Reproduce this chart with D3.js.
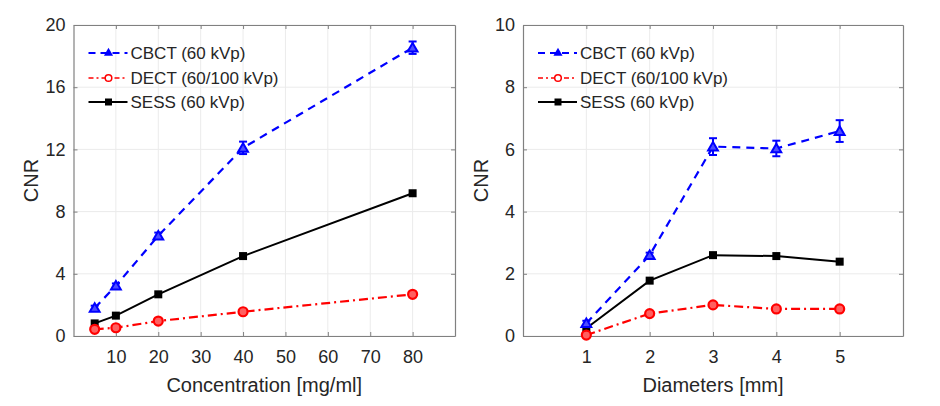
<!DOCTYPE html>
<html><head><meta charset="utf-8">
<script src="https://cdn.jsdelivr.net/npm/d3@7"></script>
<style>body{margin:0;background:#fff}svg{display:block}text{font-family:"Liberation Sans",Arial,sans-serif;fill:#262626}</style>
</head><body><svg id="c" width="940" height="406"></svg>
<script>
// Left panel: concentration
const concX = [5, 10, 20, 40, 80];
const concCBCT = [1.8, 3.23, 6.45, 12.1, 18.54];
const concCBCTerr = [0.15, 0.15, 0.2, 0.4, 0.4];
const concDECT = [0.43, 0.53, 0.96, 1.56, 2.68];
const concSESS = [0.81, 1.31, 2.68, 5.14, 9.18];
const concXTicks = [10, 20, 30, 40, 50, 60, 70, 80];
const concYTicks = [0, 4, 8, 12, 16, 20];
// Right panel: diameters
const diamX = [1, 2, 3, 4, 5];
const diamCBCT = [0.41, 2.6, 6.09, 6.03, 6.59];
const diamCBCTerr = [0.08, 0.08, 0.27, 0.25, 0.35];
const diamDECT = [0.03, 0.72, 1.0, 0.87, 0.87];
const diamSESS = [0.25, 1.78, 2.6, 2.57, 2.39];
const diamXTicks = [1, 2, 3, 4, 5];
const diamYTicks = [0, 2, 4, 6, 8, 10];
const seriesNames = ["CBCT (60 kVp)", "DECT (60/100 kVp)", "SESS (60 kVp)"];

const svg = d3.select("#c");

function panel(cfg) {
  const x = d3.scaleLinear().domain(cfg.xdom).range([cfg.left, cfg.right]);
  const y = d3.scaleLinear().domain(cfg.ydom).range([cfg.bottom, cfg.top]);
  const g = svg.append("g");
  const fmt = d3.format("d");
  // grid
  g.selectAll(".vg").data(cfg.xticks).enter().append("line")
    .attr("x1", d => x(d)).attr("x2", d => x(d)).attr("y1", cfg.top).attr("y2", cfg.bottom)
    .attr("stroke", "#ebebeb").attr("stroke-width", 1);
  g.selectAll(".hg").data(cfg.yticks).enter().append("line")
    .attr("y1", d => y(d)).attr("y2", d => y(d)).attr("x1", cfg.left).attr("x2", cfg.right)
    .attr("stroke", "#ebebeb").attr("stroke-width", 1);
  // axes
  const ax = g.append("g").attr("transform", `translate(0,${cfg.bottom})`)
    .call(d3.axisBottom(x).tickValues(cfg.xticks).tickFormat(fmt).tickSizeInner(-4).tickSizeOuter(0).tickPadding(14));
  const ay = g.append("g").attr("transform", `translate(${cfg.left},0)`)
    .call(d3.axisLeft(y).tickValues(cfg.yticks).tickFormat(fmt).tickSizeInner(-4).tickSizeOuter(0).tickPadding(8));
  const axT = g.append("g").attr("transform", `translate(0,${cfg.top})`)
    .call(d3.axisTop(x).tickValues(cfg.xticks).tickSizeInner(-4).tickSizeOuter(0).tickFormat(""));
  const ayR = g.append("g").attr("transform", `translate(${cfg.right},0)`)
    .call(d3.axisRight(y).tickValues(cfg.yticks).tickSizeInner(-4).tickSizeOuter(0).tickFormat(""));
  [ax, ay, axT, ayR].forEach(a => {
    a.select(".domain").attr("stroke", "#808080").attr("stroke-width", 1.2);
    a.selectAll(".tick line").attr("stroke", "#808080");
    a.selectAll("text").style("font-size", "18px").attr("fill", "#262626");
  });
  g.append("text").attr("x", (cfg.left + cfg.right) / 2).attr("y", 392)
    .attr("text-anchor", "middle").style("font-size", "20px").text(cfg.xlabel);
  g.append("text").attr("transform", `translate(${cfg.ylabX},${(cfg.top + cfg.bottom) / 2}) rotate(-90)`)
    .attr("text-anchor", "middle").style("font-size", "20px").text("CNR");

  const line = d3.line().x(d => x(d[0])).y(d => y(d[1]));
  const zip = (xs, ys) => xs.map((v, i) => [v, ys[i]]);
  const sess = zip(cfg.xs, cfg.sess), dect = zip(cfg.xs, cfg.dect), cbct = zip(cfg.xs, cfg.cbct);
  const clip = g.append("g");
  // SESS
  clip.append("path").attr("d", line(sess)).attr("fill", "none").attr("stroke", "#000").attr("stroke-width", 2);
  clip.selectAll(".sq").data(sess).enter().append("rect")
    .attr("x", d => x(d[0]) - 4).attr("y", d => y(d[1]) - 4).attr("width", 8).attr("height", 8).attr("fill", "#000");
  // DECT
  clip.append("path").attr("d", line(dect)).attr("fill", "none").attr("stroke", "#ff0000").attr("stroke-width", 2.2)
    .attr("stroke-dasharray", "9,4,2,4");
  clip.selectAll(".ci").data(dect).enter().append("circle")
    .attr("cx", d => x(d[0])).attr("cy", d => y(d[1])).attr("r", 4.5)
    .attr("fill", "#ff6060").attr("stroke", "#ff0000").attr("stroke-width", 2.2);
  // CBCT
  clip.append("path").attr("d", line(cbct)).attr("fill", "none").attr("stroke", "#0000ff").attr("stroke-width", 2.2)
    .attr("stroke-dasharray", "8,6");
  const eb = clip.selectAll(".eb").data(cbct.map((d, i) => [d[0], d[1], cfg.err[i]])).enter().append("g");
  eb.append("line").attr("x1", d => x(d[0])).attr("x2", d => x(d[0]))
    .attr("y1", d => y(d[1] - d[2])).attr("y2", d => y(d[1] + d[2])).attr("stroke", "#0000ff").attr("stroke-width", 2);
  eb.append("line").attr("x1", d => x(d[0]) - 4).attr("x2", d => x(d[0]) + 4)
    .attr("y1", d => y(d[1] - d[2])).attr("y2", d => y(d[1] - d[2])).attr("stroke", "#0000ff").attr("stroke-width", 2);
  eb.append("line").attr("x1", d => x(d[0]) - 4).attr("x2", d => x(d[0]) + 4)
    .attr("y1", d => y(d[1] + d[2])).attr("y2", d => y(d[1] + d[2])).attr("stroke", "#0000ff").attr("stroke-width", 2);
  const tri = d3.symbol().type(d3.symbolTriangle).size(42);
  clip.selectAll(".tr").data(cbct).enter().append("path")
    .attr("d", tri).attr("transform", d => `translate(${x(d[0])},${y(d[1]) + 1})`)
    .attr("fill", "#4d4dff").attr("stroke", "#0000ff").attr("stroke-width", 2);

  // legend
  const lx = cfg.left + 15, lys = [53, 78, 102];
  const L = g.append("g");
  const styles = [
    {c: "#0000ff", dash: "7,5", w: 2.2},
    {c: "#ff0000", dash: "5,3,2,3", w: 1.5},
    {c: "#000", dash: null, w: 2}
  ];
  seriesNames.forEach((n, i) => {
    const ly = lys[i];
    L.append("line").attr("x1", lx).attr("x2", lx + 39).attr("y1", ly).attr("y2", ly)
      .attr("stroke", styles[i].c).attr("stroke-width", styles[i].w).attr("stroke-dasharray", styles[i].dash);
    const mx = lx + 20;
    if (i === 0) L.append("path").attr("d", d3.symbol().type(d3.symbolTriangle).size(36))
      .attr("transform", `translate(${mx},${ly})`).attr("fill", "#0000ff");
    if (i === 1) L.append("circle").attr("cx", mx).attr("cy", ly).attr("r", 3.3)
      .attr("fill", "#fff").attr("stroke", "#ff0000").attr("stroke-width", 1.5);
    if (i === 2) L.append("rect").attr("x", mx - 3.5).attr("y", ly - 3.5).attr("width", 7).attr("height", 7).attr("fill", "#000");
    L.append("text").attr("x", lx + 42).attr("y", ly + 6).style("font-size", "17px").text(n);
  });
}

panel({left: 73.5, right: 455, top: 25, bottom: 336, xdom: [0, 90], ydom: [0, 20],
  xticks: concXTicks, yticks: concYTicks, xs: concX, cbct: concCBCT, err: concCBCTerr,
  dect: concDECT, sess: concSESS, xlabel: "Concentration [mg/ml]", ylabX: 38});
panel({left: 523, right: 903, top: 25, bottom: 336, xdom: [0, 6], ydom: [0, 10],
  xticks: diamXTicks, yticks: diamYTicks, xs: diamX, cbct: diamCBCT, err: diamCBCTerr,
  dect: diamDECT, sess: diamSESS, xlabel: "Diameters [mm]", ylabX: 488});
</script></body></html>
